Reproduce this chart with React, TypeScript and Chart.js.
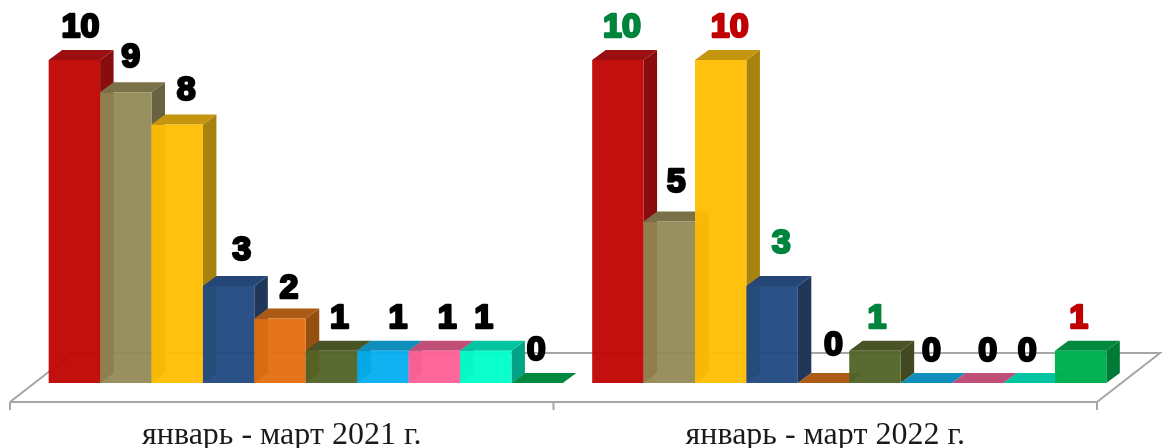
import React, { useEffect, useRef } from "react";
import { Chart, registerables } from "chart.js";

Chart.register(...registerables);

const categories = ["январь - март 2021 г.", "январь - март 2022 г."];
const series1 = [10, 10];
const series2 = [9, 5];
const series3 = [8, 10];
const series4 = [3, 3];
const series5 = [2, 0];
const series6 = [1, 1];
const series7 = [1, 0];
const series8 = [1, 0];
const series9 = [1, 0];
const series10 = [0, 1];
const seriesValues = [series1, series2, series3, series4, series5, series6, series7, series8, series9, series10];

const fronts = ["rgba(191,6,5,0.96)", "rgba(144,136,83,0.93)", "rgba(255,190,1,0.95)", "rgba(32,73,127,0.95)", "rgba(228,110,14,0.95)", "rgba(81,99,38,0.95)", "rgba(3,174,240,0.95)", "rgba(255,96,150,0.96)", "rgba(0,255,202,0.96)", "rgba(0,176,80,0.98)"];
const sides = ["#8a0d0e", "#686240", "#a8820f", "#20375a", "#93500f", "#434a22", "#0d7fa8", "#a84468", "#00a385", "#007a37"];
const tops = ["#9c0f10", "#7a7149", "#c4950e", "#254777", "#ab5b15", "#4a5326", "#108fbd", "#c04f78", "#00c5a0", "#00893f"];
const labelColors = [
  ["#000000", "#00843d"],
  ["#000000", "#000000"],
  ["#000000", "#c00000"],
  ["#000000", "#00843d"],
  ["#000000", "#000000"],
  ["#000000", "#00843d"],
  ["#000000", "#000000"],
  ["#000000", "#000000"],
  ["#000000", "#000000"],
  ["#000000", "#c00000"],
];
const labelNudge = [
  [[6, -32], [4, -32]],
  [[5, -35], [7, -39]],
  [[9, -34], [9, -32]],
  [[13, -35], [9, -42]],
  [[9, -30], [10, -37]],
  [[8, -32], [2, -32]],
  [[15, -32], [5, -31]],
  [[13, -32], [10, -31]],
  [[-2, -32], [-2, -31]],
  [[-1, -32], [-2, -32]],
];

const DEPTH_X = 13.5;
const DEPTH_Y = 10;
const FLOOR_SHIFT = 24;
const FLOOR_X = 63;
const FLOOR_Y = 49;
const FLOOR_DROP = 19;

const threeD = {
  id: "threeD",
  beforeDatasetsDraw(chart: any) {
    const { ctx, chartArea, scales } = chart;
    const left = chartArea.left - FLOOR_SHIFT;
    const right = chartArea.right - FLOOR_SHIFT;
    const y = scales.y.getPixelForValue(0) + FLOOR_DROP;
    ctx.save();
    ctx.strokeStyle = "#a6a6a6";
    ctx.lineWidth = 2;
    ctx.beginPath();
    ctx.moveTo(left, y);
    ctx.lineTo(right, y);
    ctx.lineTo(right + FLOOR_X, y - FLOOR_Y);
    ctx.lineTo(left + FLOOR_X, y - FLOOR_Y);
    ctx.lineTo(left, y);
    const step = (right - left) / categories.length;
    for (let i = 0; i <= categories.length; i++) {
      ctx.moveTo(left + i * step, y);
      ctx.lineTo(left + i * step, y + 8);
    }
    ctx.stroke();
    ctx.restore();
    // Paint bars left to right so each translucent front overlaps its left neighbour's side.
    ctx.save();
    seriesValues.forEach((_, idx) => {
      const meta = chart.getDatasetMeta(idx);
      meta.data.forEach((bar: any) => {
        const l = bar.x - bar.width / 2;
        const r = bar.x + bar.width / 2;
        const t = bar.y;
        const b = bar.base;
        ctx.fillStyle = sides[idx];
        ctx.beginPath();
        ctx.moveTo(r, t);
        ctx.lineTo(r + DEPTH_X, t - DEPTH_Y);
        ctx.lineTo(r + DEPTH_X, b - DEPTH_Y);
        ctx.lineTo(r, b);
        ctx.closePath();
        ctx.fill();
        ctx.fillStyle = tops[idx];
        ctx.beginPath();
        ctx.moveTo(l, t);
        ctx.lineTo(l + DEPTH_X, t - DEPTH_Y);
        ctx.lineTo(r + DEPTH_X, t - DEPTH_Y);
        ctx.lineTo(r, t);
        ctx.closePath();
        ctx.fill();
        bar.draw(ctx);
      });
    });
    ctx.restore();
  },
  beforeDatasetDraw() {
    return false;
  },
  afterDatasetsDraw(chart: any) {
    const { ctx } = chart;
    ctx.save();
    ctx.font = 'bold 34px "Liberation Sans", Arial, sans-serif';
    ctx.textAlign = "center";
    ctx.textBaseline = "middle";
    ctx.lineJoin = "round";
    ctx.lineWidth = 2.5;
    seriesValues.forEach((values, s) => {
      const meta = chart.getDatasetMeta(s);
      values.forEach((v, c) => {
        const bar = meta.data[c];
        const [dx, dy] = labelNudge[s][c];
        const x = bar.x + dx;
        const y = bar.y + dy;
        ctx.fillStyle = labelColors[s][c];
        ctx.strokeStyle = labelColors[s][c];
        ctx.strokeText(String(v), x, y);
        ctx.fillText(String(v), x, y);
      });
    });
    ctx.restore();
  },
};

export default function App() {
  const ref = useRef<HTMLCanvasElement>(null);
  useEffect(() => {
    const chart = new Chart(ref.current as HTMLCanvasElement, {
      type: "bar",
      data: {
        labels: categories,
        datasets: seriesValues.map((data, i) => ({
          data,
          backgroundColor: fronts[i],
          borderWidth: 0,
          categoryPercentage: 0.946,
          barPercentage: 1,
        })),
      },
      options: {
        responsive: false,
        animation: false,
        devicePixelRatio: 1,
        layout: { padding: { left: 34, right: 41, top: 60, bottom: 0 } },
        plugins: { legend: { display: false }, tooltip: { enabled: false } },
        scales: {
          x: {
            grid: { display: false, tickLength: 0 },
            border: { display: false },
            afterFit(scale: any) {
              scale.height = 65;
            },
            ticks: {
              color: "#1a1a1a",
              font: { family: '"Liberation Serif", "Times New Roman", serif', size: 32 },
              padding: 33,
              labelOffset: -FLOOR_SHIFT,
              maxRotation: 0,
              autoSkip: false,
            },
          },
          y: { display: false, min: 0, max: 10 },
        },
      } as any,
      plugins: [threeD],
    });
    return () => chart.destroy();
  }, []);
  return (
    <div style={{ position: "fixed", left: 0, top: 0, width: 1162, height: 448, background: "#fff" }}>
      <canvas ref={ref} width={1162} height={448} style={{ display: "block" }} />
    </div>
  );
}
